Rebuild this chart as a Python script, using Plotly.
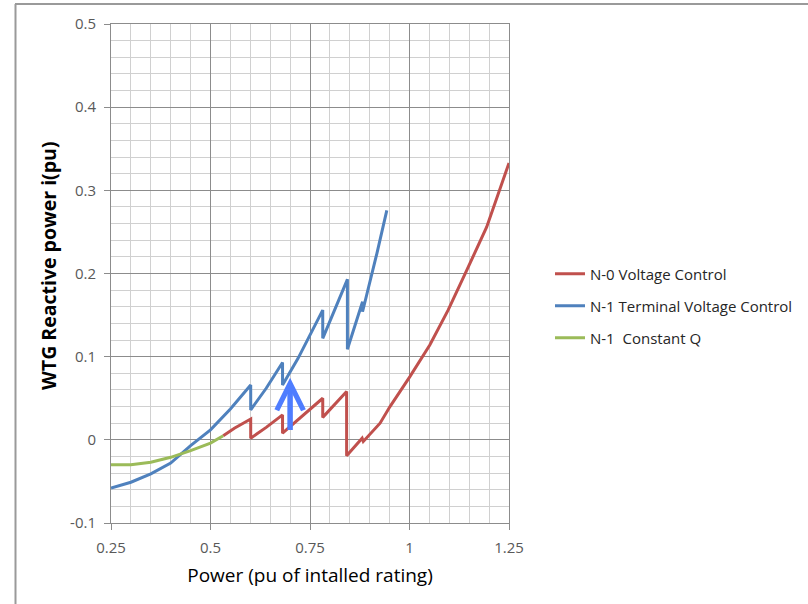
import plotly.graph_objects as go

# ---- data ----
N0_X = [0.532, 0.56, 0.601, 0.601, 0.64, 0.681, 0.681, 0.73, 0.782, 0.782, 0.81, 0.842, 0.842,
        0.881, 0.884, 0.926, 0.951, 1.001, 1.051, 1.097, 1.144, 1.194, 1.25]
N0_Y = [0.005, 0.014, 0.025, 0.002, 0.015, 0.030, 0.008, 0.028, 0.050, 0.027, 0.042, 0.058, -0.019,
        0.002, -0.002, 0.020, 0.040, 0.076, 0.114, 0.156, 0.204, 0.256, 0.333]

N1T_X = [0.25, 0.30, 0.35, 0.40, 0.45, 0.50, 0.55, 0.601, 0.601, 0.64, 0.681, 0.681, 0.72, 0.75,
         0.782, 0.782, 0.81, 0.844, 0.844, 0.882, 0.882, 0.90, 0.918, 0.943]
N1T_Y = [-0.058, -0.051, -0.041, -0.028, -0.007, 0.012, 0.037, 0.066, 0.036, 0.062, 0.093, 0.066,
         0.098, 0.126, 0.156, 0.122, 0.154, 0.193, 0.109, 0.166, 0.154, 0.188, 0.224, 0.276]

N1Q_X = [0.25, 0.30, 0.35, 0.40, 0.45, 0.50, 0.532]
N1Q_Y = [-0.030, -0.030, -0.027, -0.021, -0.013, -0.004, 0.005]

SERIES_NAMES = ["N-0 Voltage Control", "N-1 Terminal Voltage Control", "N-1  Constant Q"]

X_TICKS = [0.25, 0.5, 0.75, 1.0, 1.25]
X_TICK_LABELS = ["0.25", "0.5", "0.75", "1", "1.25"]
Y_TICKS = [-0.1, 0.0, 0.1, 0.2, 0.3, 0.4, 0.5]
Y_TICK_LABELS = ["-0.1", "0", "0.1", "0.2", "0.3", "0.4", "0.5"]

ARROW_X = 0.70
ARROW_Y_START = 0.010
ARROW_Y_END = 0.077

X_TITLE = "Power (pu of intalled rating)"
Y_TITLE = "WTG Reactive power i(pu)"

# ---- styling ----
RED = "#C0504D"
BLUE = "#4F81BD"
GREEN = "#9BBB59"
ARROW_COLOR = "#4F7DFF"
FONT = "Open Sans"
MAJOR_GRID = "#8C8C8C"
MINOR_GRID = "#D0D0D0"

fig = go.Figure()
fig.add_trace(go.Scatter(x=N0_X, y=N0_Y, mode="lines", name=SERIES_NAMES[0],
                         line=dict(color=RED, width=3), legend="legend"))
fig.add_trace(go.Scatter(x=N1T_X, y=N1T_Y, mode="lines", name=SERIES_NAMES[1],
                         line=dict(color=BLUE, width=3), legend="legend2"))
fig.add_trace(go.Scatter(x=N1Q_X, y=N1Q_Y, mode="lines", name=SERIES_NAMES[2],
                         line=dict(color=GREEN, width=3), legend="legend3"))

fig.add_annotation(x=ARROW_X, y=ARROW_Y_END, ax=ARROW_X, ay=ARROW_Y_START,
                   xref="x", yref="y", axref="x", ayref="y", text="",
                   showarrow=True, arrowhead=5, arrowwidth=5.5, arrowsize=0.95,
                   arrowcolor=ARROW_COLOR, standoff=2)

L, R, T, B = 111, 299, 24, 81
W, H = 808, 604
pw, ph = W - L - R, H - T - B


def px_to_paper_x(px):
    return (px - L) / pw


def px_to_paper_y(py):
    return 1 - (py - T) / ph


# y-axis title as rotated text, placed like the reference
fig.add_annotation(x=px_to_paper_x(48), y=px_to_paper_y(266), xref="paper", yref="paper",
                   text=Y_TITLE, textangle=-90, showarrow=False,
                   xanchor="center", yanchor="middle",
                   font=dict(family=FONT, size=19.5, color="#000000", weight="bold"))

legend_common = dict(xanchor="left", yanchor="middle", bgcolor="rgba(0,0,0,0)",
                     font=dict(family=FONT, size=15, color="#262626"), itemwidth=30)

fig.update_layout(
    width=W, height=H,
    margin=dict(l=L, r=R, t=T, b=B, pad=0, autoexpand=False),
    paper_bgcolor="white", plot_bgcolor="white",
    font=dict(family=FONT, color="#595959"),
    legend=dict(x=px_to_paper_x(550), y=px_to_paper_y(274), **legend_common),
    legend2=dict(x=px_to_paper_x(550), y=px_to_paper_y(306), **legend_common),
    legend3=dict(x=px_to_paper_x(550), y=px_to_paper_y(338), **legend_common),
    showlegend=True,
    xaxis=dict(
        range=[0.25, 1.25], tickmode="array", tickvals=X_TICKS, ticktext=X_TICK_LABELS,
        showgrid=True, gridcolor=MAJOR_GRID, gridwidth=1,
        minor=dict(dtick=0.05, tick0=0.25, showgrid=True, gridcolor=MINOR_GRID, gridwidth=1),
        showline=True, linecolor=MAJOR_GRID, linewidth=1, mirror=True,
        ticks="outside", ticklen=6, tickcolor=MAJOR_GRID,
        tickfont=dict(family=FONT, size=15, color="#595959"),
        ticklabelstandoff=5, automargin=False,
        zeroline=False,
        title=dict(text=X_TITLE, font=dict(family=FONT, size=19, color="#000000"), standoff=12),
    ),
    yaxis=dict(
        range=[-0.1, 0.5], tickmode="array", tickvals=Y_TICKS, ticktext=Y_TICK_LABELS,
        showgrid=True, gridcolor=MAJOR_GRID, gridwidth=1,
        minor=dict(dtick=0.02, tick0=0.0, showgrid=True, gridcolor=MINOR_GRID, gridwidth=1),
        showline=True, linecolor=MAJOR_GRID, linewidth=1, mirror=True,
        ticks="outside", ticklen=6, tickcolor=MAJOR_GRID,
        tickfont=dict(family=FONT, size=15, color="#595959"),
        ticklabelstandoff=5, automargin=False,
        zeroline=False,
    ),
)

# frame lines of the chart area (top and left edges)
fig.add_shape(type="line", xref="paper", yref="paper",
              x0=px_to_paper_x(15), x1=px_to_paper_x(808), y0=px_to_paper_y(4), y1=px_to_paper_y(4),
              line=dict(color="#9A9A9A", width=2))
fig.add_shape(type="line", xref="paper", yref="paper",
              x0=px_to_paper_x(15.5), x1=px_to_paper_x(15.5), y0=px_to_paper_y(4), y1=px_to_paper_y(604),
              line=dict(color="#9A9A9A", width=2))

fig.write_html("out.html")
